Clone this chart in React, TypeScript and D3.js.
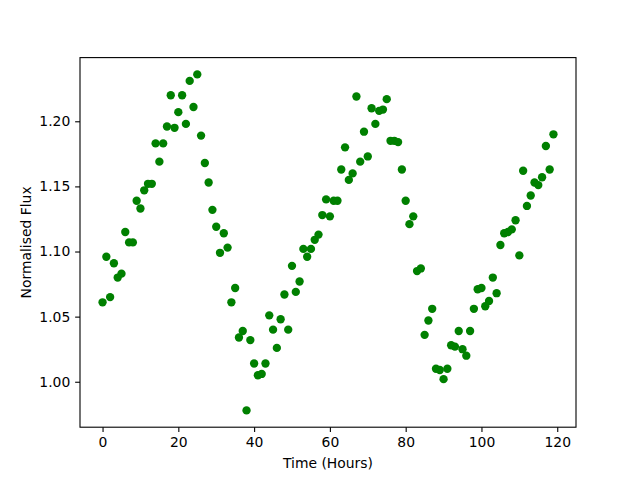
import * as React from "react";
import { useRef, useEffect } from "react";
import * as d3 from "d3";

// hours since start of observation
const hours: number[] = d3.range(0, 120);

// normalised flux, one per hour
const flux: number[] = [
  1.061, 1.096, 1.065, 1.091, 1.08, 1.083, 1.115, 1.107, 1.107, 1.139,
  1.133, 1.147, 1.152, 1.152, 1.183, 1.169, 1.183, 1.196, 1.22, 1.195,
  1.207, 1.22, 1.198, 1.231, 1.211, 1.236, 1.189, 1.168, 1.153, 1.132,
  1.119, 1.099, 1.114, 1.103, 1.061, 1.072, 1.034, 1.039, 0.978, 1.032,
  1.014, 1.005, 1.006, 1.014, 1.051, 1.04, 1.026, 1.048, 1.067, 1.04,
  1.089, 1.069, 1.077, 1.102, 1.096, 1.102, 1.109, 1.113, 1.128, 1.14,
  1.127, 1.139, 1.139, 1.163, 1.18, 1.155, 1.16, 1.219, 1.169, 1.192,
  1.173, 1.21, 1.198, 1.208, 1.209, 1.217, 1.185, 1.185, 1.184, 1.163,
  1.139, 1.121, 1.127, 1.085, 1.087, 1.036, 1.047, 1.056, 1.01, 1.009,
  1.002, 1.01, 1.028, 1.027, 1.039, 1.025, 1.02, 1.039, 1.056, 1.071,
  1.072, 1.058, 1.062, 1.08, 1.068, 1.105, 1.114, 1.115, 1.117, 1.124,
  1.097, 1.162, 1.135, 1.143, 1.153, 1.151, 1.157, 1.181, 1.163, 1.19,
];

const xTicks = [0, 20, 40, 60, 80, 100, 120];
const yTicks = [1.0, 1.05, 1.1, 1.15, 1.2];

const Scatter = () => {
  const svgRef = useRef<SVGSVGElement>(null);

  useEffect(() => {
    const W = 640;
    const H = 480;
    const margin = { top: 57.6, right: 64, bottom: 52.8, left: 80 };
    const width = W - margin.left - margin.right;
    const height = H - margin.top - margin.bottom;
    const font = "DejaVu Sans, sans-serif";
    const fs = 13.9;

    const svg = d3.select(svgRef.current).attr("width", W).attr("height", H);
    svg.selectAll("*").remove();
    svg.append("rect").attr("width", W).attr("height", H).attr("fill", "#fff");

    const g = svg
      .append("g")
      .attr("transform", `translate(${margin.left},${margin.top})`);

    // matplotlib style 5% padding around data
    const [x0, x1] = d3.extent(hours) as [number, number];
    const [y0, y1] = d3.extent(flux) as [number, number];
    const px = (x1 - x0) * 0.05;
    const py = (y1 - y0) * 0.05;

    const xScale = d3.scaleLinear().domain([x0 - px, x1 + px]).range([0, width]);
    const yScale = d3.scaleLinear().domain([y0 - py, y1 + py]).range([height, 0]);

    // points
    g.selectAll("circle")
      .data(flux)
      .enter()
      .append("circle")
      .attr("cx", (_, i) => xScale(hours[i]))
      .attr("cy", (d) => yScale(d))
      .attr("r", 4.17)
      .attr("fill", "#008000");

    // axes
    const xAxis = d3
      .axisBottom(xScale)
      .tickValues(xTicks)
      .tickFormat(d3.format("d"))
      .tickSize(4.86)
      .tickPadding(4.86);
    const yAxis = d3
      .axisLeft(yScale)
      .tickValues(yTicks)
      .tickFormat(d3.format(".2f"))
      .tickSize(4.86)
      .tickPadding(4.86);

    const gx = g.append("g").attr("transform", `translate(0,${height})`).call(xAxis);
    const gy = g.append("g").call(yAxis);
    [gx, gy].forEach((a) => {
      a.select(".domain").remove();
      a.selectAll("line").attr("stroke", "#000").attr("stroke-width", 1.1);
      a.selectAll("text")
        .attr("fill", "#000")
        .style("font-family", font)
        .style("font-size", `${fs}px`);
    });

    // frame
    g.append("rect")
      .attr("width", width)
      .attr("height", height)
      .attr("fill", "none")
      .attr("stroke", "#000")
      .attr("stroke-width", 1.1);

    // labels
    svg
      .append("text")
      .attr("x", margin.left + width / 2)
      .attr("y", 468)
      .attr("text-anchor", "middle")
      .style("font-family", font)
      .style("font-size", `${fs}px`)
      .text("Time (Hours)");

    svg
      .append("text")
      .attr("transform", `translate(31,${margin.top + height / 2}) rotate(-90)`)
      .attr("text-anchor", "middle")
      .style("font-family", font)
      .style("font-size", `${fs}px`)
      .text("Normalised Flux");
  }, []);

  return <svg ref={svgRef}></svg>;
};

export default function App() {
  return (
    <div style={{ position: "fixed", top: 0, left: 0 }}>
      <Scatter />
    </div>
  );
}
